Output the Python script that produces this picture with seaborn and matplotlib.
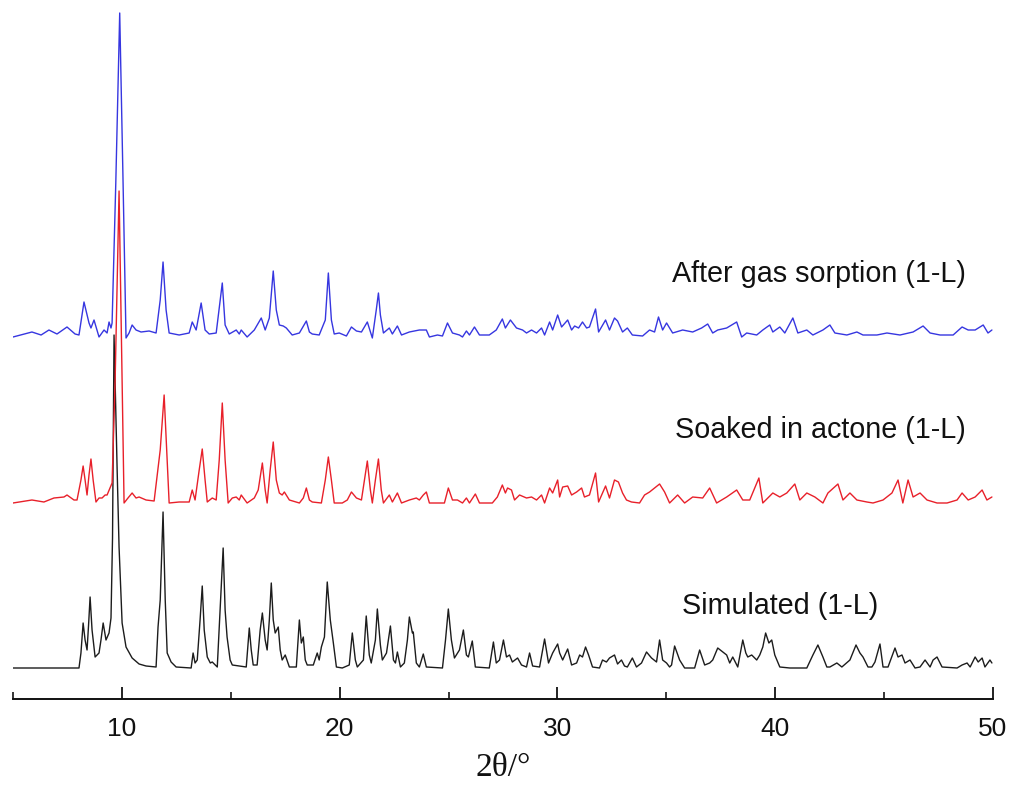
import matplotlib
matplotlib.use("Agg")
import matplotlib.pyplot as plt
import pandas as pd
import seaborn as sns
from matplotlib.ticker import MultipleLocator

# values: 2theta in degrees, intensity in arbitrary units
sim_2theta = [5.0, 8.03, 8.12, 8.22, 8.31, 8.40, 8.47, 8.54, 8.63, 8.77, 8.95, 9.04, 9.14, 9.27, 9.41,
              9.50, 9.57, 9.64, 9.78, 9.87, 10.01, 10.19, 10.47, 10.79, 11.11, 11.57, 11.66, 11.76,
              11.89, 11.99, 12.08, 12.26, 12.49, 13.18, 13.27, 13.36, 13.46, 13.59, 13.69, 13.78,
              13.92, 14.06, 14.15, 14.38, 14.51, 14.65, 14.74, 14.83, 14.97, 15.07, 15.71, 15.85,
              15.94, 16.03, 16.21, 16.35, 16.45, 16.58, 16.67, 16.77, 16.86, 16.95, 17.04, 17.18,
              17.27, 17.36, 17.50, 17.69, 18.01, 18.15, 18.24, 18.33, 18.42, 18.51, 18.79, 18.97,
              19.06, 19.16, 19.30, 19.43, 19.57, 19.71, 19.85, 20.12, 20.44, 20.58, 20.72, 20.81,
              21.09, 21.22, 21.36, 21.45, 21.64, 21.73, 21.87, 21.96, 22.15, 22.33, 22.47, 22.56,
              22.65, 22.79, 22.97, 23.11, 23.20, 23.34, 23.38, 23.52, 23.66, 23.84, 23.98, 24.72,
              24.86, 24.99, 25.13, 25.27, 25.50, 25.68, 25.82, 25.91, 26.09, 26.23, 26.87, 27.06,
              27.19, 27.34, 27.52, 27.66, 27.80, 27.93, 28.17, 28.35, 28.58, 28.72, 28.86, 29.18,
              29.41, 29.59, 29.78, 30.01, 30.10, 30.24, 30.47, 30.65, 30.88, 31.02, 31.15, 31.29,
              31.43, 31.61, 31.93, 32.07, 32.25, 32.39, 32.62, 32.76, 32.94, 33.08, 33.21, 33.44,
              33.63, 33.86, 34.09, 34.32, 34.55, 34.69, 34.83, 35.01, 35.15, 35.24, 35.38, 35.61,
              35.84, 36.30, 36.53, 36.76, 36.99, 37.13, 37.36, 37.59, 37.77, 37.91, 38.05, 38.28,
              38.51, 38.65, 38.74, 38.92, 39.15, 39.29, 39.43, 39.56, 39.71, 39.84, 39.98, 40.21,
              40.67, 41.45, 41.73, 41.96, 42.19, 42.37, 42.51, 42.83, 43.06, 43.43, 43.71, 43.89,
              44.03, 44.26, 44.44, 44.58, 44.81, 44.95, 45.18, 45.50, 45.64, 45.82, 45.96, 46.19,
              46.42, 46.65, 46.88, 47.11, 47.25, 47.43, 47.66, 48.35, 48.58, 48.81, 48.95, 49.18,
              49.32, 49.50, 49.63, 49.86, 49.95]
sim_int = [0, 0, 15, 45, 28, 18, 43, 71, 38, 11, 15, 28, 45, 28, 35,
           50, 130, 333, 200, 121, 45, 21, 10, 4, 2, 1, 41, 68,
           156, 68, 15, 6, 1, 0, 15, 5, 8, 48, 82, 38,
           11, 5, 6, 1, 58, 120, 58, 31, 8, 3, 1, 40,
           18, 3, 3, 38, 55, 28, 18, 48, 85, 48, 35, 41,
           18, 8, 13, 1, 1, 48, 25, 31, 8, 3, 3, 15,
           8, 21, 31, 86, 48, 25, 1, 0, 3, 35, 8, 1,
           8, 52, 13, 5, 28, 59, 23, 8, 15, 42, 8, 5,
           16, 1, 5, 28, 51, 35, 36, 5, 1, 14, 1, 0,
           28, 59, 28, 10, 18, 38, 13, 11, 27, 1, 0, 26,
           5, 8, 28, 11, 13, 6, 10, 3, 1, 15, 2, 1,
           29, 5, 15, 24, 15, 8, 19, 3, 5, 13, 11, 21,
           13, 1, 0, 8, 6, 10, 13, 4, 8, 2, 1, 10,
           1, 5, 16, 10, 6, 28, 8, 5, 1, 3, 22, 8,
           0, 0, 18, 3, 5, 8, 20, 16, 13, 5, 11, 1,
           28, 15, 11, 13, 8, 13, 21, 35, 25, 28, 13, 1,
           0, 0, 13, 23, 11, 1, 1, 5, 1, 8, 23, 15,
           11, 1, 1, 6, 24, 1, 1, 20, 11, 13, 5, 8,
           0, 1, 8, 1, 8, 11, 1, 0, 3, 5, 1, 11,
           6, 10, 1, 8, 5]

soak_2theta = [5.0, 5.87, 6.42, 6.88, 7.34, 7.48, 7.80, 7.94, 8.12, 8.22, 8.31, 8.40, 8.49, 8.58, 8.68,
               8.81, 8.95, 9.09, 9.23, 9.32, 9.55, 9.69, 9.87, 10.01, 10.10, 10.28, 10.47, 10.65,
               10.79, 11.11, 11.48, 11.76, 11.94, 12.08, 12.17, 12.63, 13.09, 13.23, 13.36, 13.55,
               13.69, 13.82, 13.92, 14.15, 14.33, 14.47, 14.61, 14.74, 14.88, 15.07, 15.25, 15.39,
               15.48, 15.75, 16.08, 16.26, 16.45, 16.58, 16.67, 16.81, 16.95, 17.09, 17.23, 17.36,
               17.46, 17.69, 18.15, 18.33, 18.47, 18.61, 18.74, 19.16, 19.34, 19.48, 19.62, 19.75,
               20.12, 20.35, 20.54, 20.77, 21.00, 21.14, 21.27, 21.41, 21.50, 21.64, 21.78, 21.91,
               22.01, 22.28, 22.42, 22.65, 22.84, 23.20, 23.52, 23.66, 23.84, 23.98, 24.12, 24.59,
               24.81, 24.99, 25.18, 25.41, 25.64, 25.82, 25.96, 26.23, 26.42, 27.01, 27.24, 27.47,
               27.61, 27.71, 27.89, 28.03, 28.26, 28.58, 28.81, 29.04, 29.27, 29.41, 29.64, 29.78,
               30.01, 30.10, 30.24, 30.47, 30.65, 30.88, 31.11, 31.24, 31.47, 31.75, 31.89, 32.21,
               32.39, 32.62, 32.80, 32.99, 33.17, 33.40, 33.77, 34.00, 34.23, 34.46, 34.69, 34.92,
               35.15, 35.52, 35.84, 36.21, 36.67, 36.99, 37.31, 37.77, 38.23, 38.51, 38.83, 39.25,
               39.43, 39.89, 40.21, 40.53, 40.90, 41.13, 41.45, 41.82, 42.19, 42.42, 42.88, 43.11,
               43.43, 43.75, 44.21, 44.49, 44.95, 45.36, 45.64, 45.86, 46.10, 46.33, 46.65, 46.97,
               47.43, 47.89, 48.35, 48.58, 48.86, 49.18, 49.50, 49.72, 49.95]
soak_int = [0, 3, 1, 5, 6, 8, 3, 3, 23, 37, 23, 8, 28, 44, 23,
            1, 5, 5, 8, 8, 20, 123, 312, 123, 0, 5, 10, 5,
            6, 3, 2, 53, 108, 43, 0, 1, 1, 13, 3, 33,
            54, 23, 1, 5, 3, 43, 100, 43, 0, 5, 6, 3,
            8, 0, 5, 13, 40, 13, 0, 33, 61, 23, 10, 8,
            11, 3, 0, 5, 15, 3, 1, 0, 23, 46, 23, 0,
            0, 3, 11, 5, 3, 23, 42, 13, 0, 23, 44, 13,
            0, 8, 1, 10, 0, 3, 5, 3, 8, 11, 0, 0,
            0, 15, 3, 3, 0, 5, 0, 9, 0, 0, 6, 18,
            10, 15, 13, 3, 8, 5, 6, 3, 8, 0, 15, 10,
            23, 6, 16, 17, 8, 11, 15, 6, 8, 30, 1, 17,
            5, 23, 21, 10, 3, 1, 0, 8, 11, 15, 19, 11,
            0, 8, 0, 6, 5, 15, 0, 6, 13, 3, 3, 25,
            0, 10, 6, 10, 19, 3, 10, 6, 0, 10, 19, 3,
            10, 3, 1, 0, 3, 10, 23, 0, 23, 6, 10, 3,
            0, 0, 3, 10, 3, 6, 13, 3, 6]

gas_2theta = [5.0, 5.87, 6.29, 6.65, 7.02, 7.48, 7.85, 8.03, 8.26, 8.49, 8.58, 8.72, 8.95, 9.18, 9.32,
              9.41, 9.50, 9.55, 9.72, 9.90, 10.05, 10.19, 10.33, 10.47, 10.65, 10.88, 11.25, 11.57,
              11.76, 11.89, 12.03, 12.17, 12.63, 13.09, 13.23, 13.41, 13.64, 13.82, 14.01, 14.33,
              14.61, 14.74, 14.93, 15.25, 15.39, 15.48, 15.75, 16.08, 16.40, 16.58, 16.77, 16.95,
              17.09, 17.23, 17.41, 17.55, 17.82, 18.15, 18.47, 18.61, 18.74, 19.06, 19.34, 19.48,
              19.62, 19.75, 19.98, 20.31, 20.54, 20.77, 21.00, 21.27, 21.50, 21.68, 21.78, 21.87,
              22.01, 22.28, 22.42, 22.65, 22.84, 23.20, 23.66, 23.98, 24.12, 24.49, 24.72, 24.95,
              25.18, 25.50, 25.64, 25.82, 25.96, 26.19, 26.42, 26.87, 27.19, 27.47, 27.61, 27.84,
              28.12, 28.40, 28.58, 28.81, 29.04, 29.27, 29.41, 29.64, 29.78, 30.01, 30.19, 30.47,
              30.65, 30.79, 30.97, 31.15, 31.34, 31.47, 31.75, 31.89, 32.21, 32.39, 32.62, 32.76,
              32.99, 33.21, 33.44, 33.91, 34.23, 34.46, 34.64, 34.83, 35.01, 35.29, 35.75, 36.21,
              36.62, 36.90, 37.13, 37.36, 37.77, 38.23, 38.46, 38.69, 39.15, 39.43, 39.75, 39.89,
              40.21, 40.44, 40.81, 41.04, 41.45, 41.73, 42.19, 42.51, 42.74, 43.29, 43.75, 44.03,
              44.67, 45.13, 45.73, 46.33, 46.79, 47.11, 47.57, 48.17, 48.58, 48.86, 49.18, 49.55,
              49.77, 49.95]
gas_int = [1, 6, 3, 8, 4, 11, 4, 3, 36, 15, 10, 18, 1, 8, 5,
           16, 10, 15, 155, 325, 160, 0, 5, 13, 8, 6, 7, 5,
           38, 76, 28, 5, 3, 5, 16, 8, 35, 8, 4, 5,
           55, 13, 4, 8, 4, 8, 1, 8, 20, 8, 20, 67,
           28, 13, 12, 10, 3, 5, 17, 6, 4, 3, 18, 65,
           18, 4, 5, 2, 11, 7, 6, 16, 0, 28, 45, 23,
           5, 10, 4, 12, 3, 6, 8, 8, 1, 3, 2, 15,
           5, 3, 1, 7, 3, 11, 3, 3, 8, 19, 10, 18,
           10, 8, 5, 8, 5, 10, 3, 16, 8, 23, 11, 18,
           8, 12, 10, 16, 10, 11, 29, 6, 18, 8, 20, 17,
           6, 10, 3, 2, 8, 6, 21, 8, 15, 5, 8, 6,
           10, 14, 5, 8, 10, 16, 1, 5, 3, 8, 13, 6,
           11, 5, 20, 5, 8, 3, 8, 13, 5, 3, 6, 3,
           3, 5, 3, 6, 12, 5, 3, 3, 11, 8, 8, 13,
           5, 8]

labels = ["Simulated (1-L)", "Soaked in actone (1-L)", "After gas sorption (1-L)"]
colors = ["#1c1c1c", "#e8202a", "#3636e0"]

sns.set_theme(style="ticks")
plt.rcParams["font.family"] = ["Liberation Sans", "DejaVu Sans"]

fig = plt.figure(figsize=(10.13, 7.93), dpi=100)
ax = fig.add_axes([13 / 1013, 94 / 793, 980 / 1013, 699 / 793])

patterns = [(sim_2theta, sim_int), (soak_2theta, soak_int), (gas_2theta, gas_int)]
offsets = [31, 196, 361]   # vertical stacking of the three patterns
label_pos = [(35.70, 93), (35.38, 269), (35.24, 425)]

for (tt, inten), off, col, lab, (lx, ly) in zip(patterns, offsets, colors, labels, label_pos):
    df = pd.DataFrame({"two_theta": tt, "intensity": inten})
    df["shifted"] = df["intensity"] + off
    sns.lineplot(data=df, x="two_theta", y="shifted", ax=ax, color=col,
                 linewidth=1.0, estimator=None, sort=False)
    ax.text(lx, ly, lab, fontsize=20.7, ha="left", va="center", color="#111111")

ax.set_xlim(5, 50)
ax.set_ylim(0, 699)
ax.xaxis.set_major_locator(MultipleLocator(10))
ax.xaxis.set_minor_locator(MultipleLocator(5))
ax.tick_params(axis="x", which="major", direction="in", length=9, width=1.3,
               labelsize=19, pad=13, colors="#111111")
ax.tick_params(axis="x", which="minor", direction="in", length=5, width=1.3)
for t in ax.get_xticklabels():
    t.set_family(["Liberation Sans Narrow", "Liberation Sans", "DejaVu Sans"])
ax.set_yticks([])
ax.set_ylabel("")
ax.set_xlabel("2θ/°", fontsize=24, family=["Liberation Serif", "DejaVu Serif"],
              labelpad=8, color="#111111")
sns.despine(ax=ax, left=True, top=True, right=True)
ax.spines["bottom"].set_linewidth(1.4)
ax.spines["bottom"].set_color("#111111")
ax.patch.set_alpha(0)

fig.savefig("out.png", dpi=100)
